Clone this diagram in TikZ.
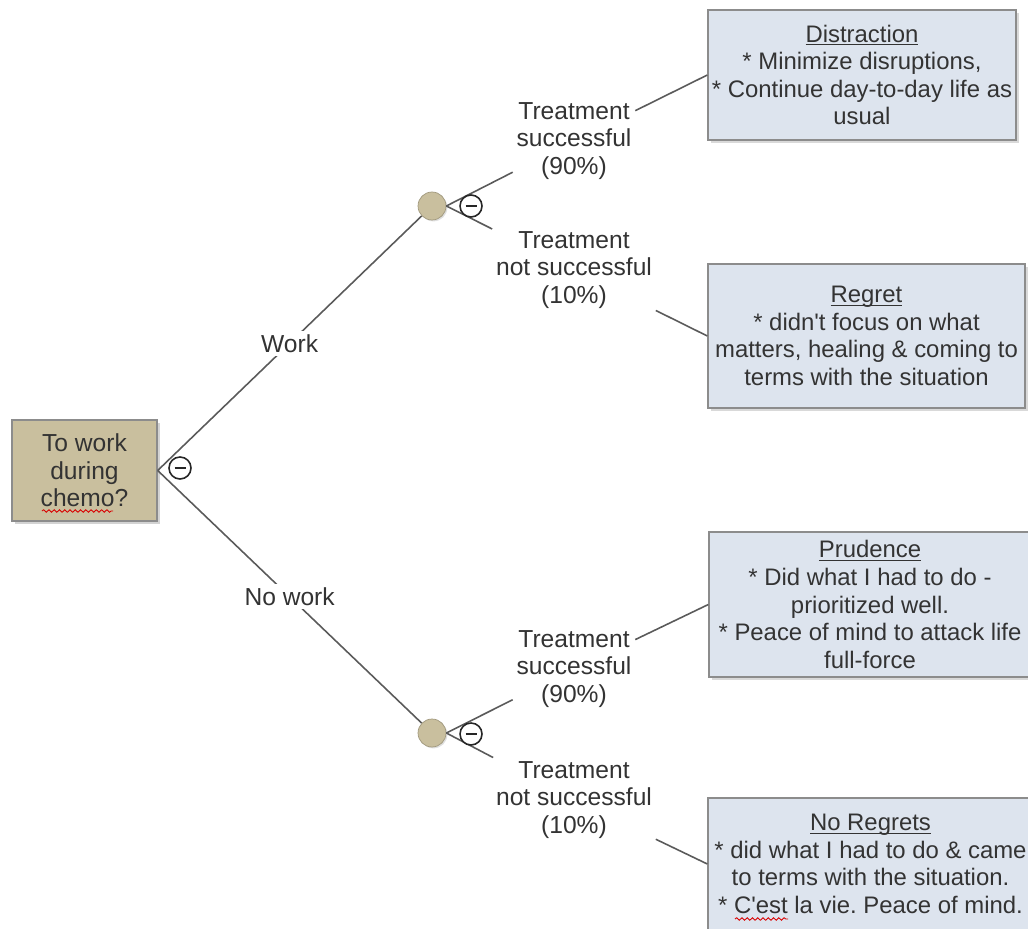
\documentclass[tikz,border=0pt]{standalone}
\usepackage{fontspec}
\setmainfont{Liberation Sans}[Ligatures=TeXOff]
\usetikzlibrary{shadows,decorations.pathmorphing}
\frenchspacing

\definecolor{branchgray}{HTML}{5A5A5A}
\definecolor{txtgray}{HTML}{333333}
\definecolor{tanfill}{HTML}{C9BF9E}
\definecolor{boxblue}{HTML}{DDE4EE}
\definecolor{boxedge}{HTML}{8C8C8C}

\newcommand{\boxtitle}[1]{\underline{\raisebox{0pt}[\height][0pt]{#1}}}

\tikzset{
  branch/.style={draw=branchgray, line width=0.9pt},
  decision/.style={rectangle, draw=boxedge, fill=tanfill, line width=0.8pt, align=center,
    drop shadow={opacity=0.35, shadow xshift=1.5pt, shadow yshift=-1.5pt}},
  chance/.style={circle, draw=tanfill!80!black, fill=tanfill, minimum size=0.56cm, inner sep=0pt,
    drop shadow={opacity=0.25, shadow xshift=0.8pt, shadow yshift=-0.8pt}},
  minusmark/.style={circle, draw=black!85, fill=white, line width=0.9pt, minimum size=0.44cm, inner sep=0pt,
    path picture={\draw[line width=1.1pt] ([xshift=-0.11cm]path picture bounding box.center) -- ([xshift=0.11cm]path picture bounding box.center);}},
  branchlbl/.style={fill=white, inner sep=2pt},
  chancelbl/.style={align=center, inner sep=2pt},
  outcome/.style={rectangle, draw=boxedge, fill=boxblue, line width=0.8pt, align=center, inner sep=1pt,
    font=\fontsize{13.6}{15.7}\selectfont,
    drop shadow={opacity=0.3, shadow xshift=1.5pt, shadow yshift=-1.5pt}},
  spellmark/.style={red!85!black, line width=0.5pt, decorate, decoration={snake, amplitude=0.7pt, segment length=3pt}}
}

\begin{document}
\begin{tikzpicture}[x=0.02cm, y=-0.02cm, font=\fontsize{14}{15.7}\selectfont, text=txtgray]
    \useasboundingbox (0,0) rectangle (1028,929);

    % Decision node
    \node[decision, minimum width=2.9cm, minimum height=2.02cm] (root) at (84.5,470.5) {To work\\during\\chemo?};
    \draw[spellmark] (42,511) -- (113,511);

    % Chance nodes
    \node[chance] (cA) at (432,206) {};
    \node[chance] (cB) at (432,733) {};

    % Outcome labels
    \node[chancelbl] (lA) at (574,141) {Treatment\\successful\\(90\%)};
    \node[chancelbl] (lB) at (574,270) {Treatment\\not successful\\(10\%)};
    \node[chancelbl] (lC) at (574,669) {Treatment\\successful\\(90\%)};
    \node[chancelbl] (lD) at (574,800) {Treatment\\not successful\\(10\%)};

    % Outcome boxes
    \node[outcome, minimum width=6.16cm, minimum height=2.6cm] (bA) at (862,75)
        {\boxtitle{Distraction}\\* Minimize disruptions,\\* Continue day-to-day life as\\usual};
    \node[outcome, minimum width=6.34cm, minimum height=2.88cm] (bB) at (866.5,336)
        {\boxtitle{Regret}\\* didn't focus on what\\matters, healing \& coming to\\terms with the situation};
    \node[outcome, minimum width=6.44cm, minimum height=2.9cm] (bC) at (870,604.5)
        {\boxtitle{Prudence}\\* Did what I had to do -\\prioritized well.\\* Peace of mind to attack life\\full-force};
    \node[outcome, minimum width=6.5cm, minimum height=2.64cm] (bD) at (870.5,864)
        {\boxtitle{No Regrets}\\* did what I had to do \& came\\to terms with the situation.\\* C'est la vie. Peace of mind.};
    \draw[spellmark] (735,919) -- (788,919);

    % Branches
    \draw[branch] (root.east) -- (cA) node[branchlbl, midway] (work) {Work};
    \draw[branch] (root.east) -- (cB) node[branchlbl, midway] (nowork) {No work};
    \draw[branch] (cA.east) -- (lA);
    \draw[branch] (cA.east) -- (lB);
    \draw[branch] (cB.east) -- (lC);
    \draw[branch] (cB.east) -- (lD);
    \draw[branch] (lA) -- (bA.west);
    \draw[branch] (lB) -- (bB.west);
    \draw[branch] (lC) -- (bC.west);
    \draw[branch] (lD) -- (bD.west);

    % Minus marks
    \node[minusmark] (m0) at (180,468) {};
    \node[minusmark] (mA) at (471,206) {};
    \node[minusmark] (mB) at (471,734) {};

\end{tikzpicture}
\end{document}
